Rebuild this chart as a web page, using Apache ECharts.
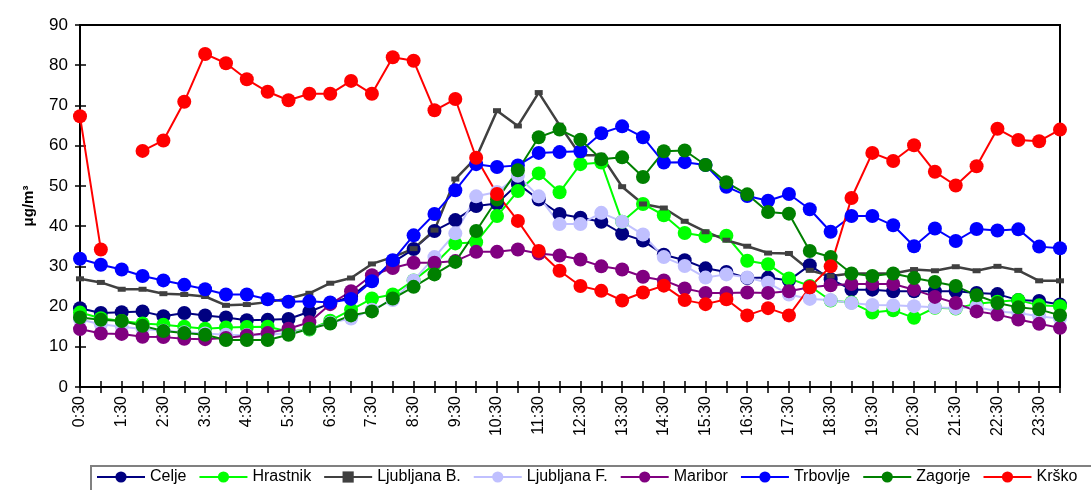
<!DOCTYPE html>
<html><head><meta charset="utf-8">
<script src="https://cdn.jsdelivr.net/npm/echarts@6/dist/echarts.min.js"></script>
<style>html,body{margin:0;padding:0;background:#fff}#c{width:1091px;height:490px}</style>
</head><body><div id="c"></div>
<script>
var categories = ['0:30','1:00','1:30','2:00','2:30','3:00','3:30','4:00','4:30','5:00','5:30','6:00','6:30','7:00','7:30','8:00','8:30','9:00','9:30','10:00','10:30','11:00','11:30','12:00','12:30','13:00','13:30','14:00','14:30','15:00','15:30','16:00','16:30','17:00','17:30','18:00','18:30','19:00','19:30','20:00','20:30','21:00','21:30','22:00','22:30','23:00','23:30','0:00'];
var yTicks = [0,10,20,30,40,50,60,70,80,90];

var celje = [19.6,18.4,18.6,18.8,17.6,18.4,17.8,17.3,16.6,16.7,16.9,18.7,20.8,22.5,26.5,31.0,34.3,38.8,41.5,45.0,45.6,50.5,46.6,43.0,42.1,41.1,38.1,36.4,32.9,31.5,29.5,28.6,27.1,27.2,26.5,30.3,26.8,24.2,24.2,23.8,23.8,23.8,23.8,23.4,23.1,21.6,21.4,20.5];
var hrastnik = [18.5,17.1,16.4,15.8,15.5,15.0,14.5,14.8,14.9,15.0,13.8,14.3,16.5,19.2,22.0,23.0,26.5,30.5,35.7,36.0,42.5,48.7,53.1,48.4,55.4,55.8,41.1,45.5,42.7,38.3,37.5,37.6,31.4,30.5,27.0,25.1,21.5,21.0,18.5,19.1,17.2,19.7,19.5,20.7,21.2,21.6,20.3,20.1];
var ljubljanaB = [26.9,26.0,24.3,24.3,23.2,23.0,22.5,20.3,20.5,21.1,22.0,23.3,25.8,27.1,30.6,32.3,34.4,39.0,51.7,57.0,68.7,64.9,73.2,65.1,57.6,57.6,49.8,45.5,44.5,41.2,38.6,36.5,35.0,33.3,33.2,29.0,27.6,28.2,28.2,28.2,29.2,28.9,29.9,28.9,30.0,29.0,26.4,26.4];
var ljubljanaF = [16.8,15.6,15.0,14.4,14.0,13.6,13.3,13.0,12.9,13.0,13.4,14.5,16.0,17.0,19.2,21.6,26.5,32.3,38.2,47.4,48.5,52.5,47.4,40.5,40.5,43.3,41.1,37.9,32.3,30.1,27.2,28.0,27.2,25.9,23.0,21.9,21.6,20.9,20.4,20.3,20.1,19.8,19.6,19.9,18.8,18.4,17.6,17.0];
var maribor = [14.4,13.3,13.2,12.5,12.4,12.0,11.9,12.2,12.8,13.4,14.5,16.1,20.6,23.8,27.8,29.6,30.9,30.9,31.3,33.6,33.6,34.2,33.2,32.7,31.7,30.0,29.2,27.4,26.5,24.5,23.4,23.4,23.5,23.4,23.8,24.8,25.3,25.6,25.6,25.6,24.2,22.4,20.9,18.8,18.0,16.8,15.7,14.7];
var trbovlje = [31.9,30.4,29.2,27.6,26.5,25.4,24.3,23.0,23.0,21.8,21.2,21.3,21.0,21.9,26.3,31.5,37.7,43.0,48.9,55.4,54.7,55.1,58.2,58.4,58.6,63.1,64.8,62.1,55.8,55.9,55.2,49.8,47.5,46.3,48.0,44.2,38.6,42.5,42.5,40.2,35.0,39.4,36.3,39.3,38.9,39.2,34.9,34.5];
var zagorje = [17.3,16.7,16.4,15.2,13.9,13.4,13.0,11.7,11.7,11.7,13.0,14.5,15.8,17.8,18.8,22.0,24.9,28.0,31.1,38.8,46.6,53.9,62.1,64.0,61.5,56.6,57.1,52.2,58.6,58.8,55.2,50.9,47.9,43.5,43.1,33.8,32.3,28.2,27.6,28.2,27.1,26.1,25.1,22.8,20.9,19.8,19.3,17.8];
var krsko = [67.3,34.2,null,58.7,61.3,70.9,82.8,80.5,76.5,73.4,71.3,72.9,72.9,76.1,72.9,82.0,81.1,68.8,71.6,57.0,48.0,41.3,33.8,28.9,25.1,23.9,21.5,23.5,25.2,21.6,20.6,21.8,17.8,19.6,17.8,24.8,30.0,47.0,58.2,56.2,60.1,53.5,50.1,54.9,64.2,61.4,61.1,64.0];

var seriesNames = ['Celje','Hrastnik','Ljubljana B.','Ljubljana F.','Maribor','Trbovlje','Zagorje','Krško'];
var seriesData = [celje,hrastnik,ljubljanaB,ljubljanaF,maribor,trbovlje,zagorje,krsko];
var seriesColors = ['#000080','#00ff00','#404040','#c0c0ff','#800080','#0000ff','#008000','#ff0000'];

var FONT = 'Arial, "Liberation Sans", sans-serif';
var series = seriesNames.map(function(n,i){
  var isB = (n === 'Ljubljana B.');
  return {
    name: n, type: 'line', data: seriesData[i], xAxisIndex: 0, yAxisIndex: 0,
    connectNulls: false,
    symbol: isB ? 'rect' : 'circle',
    symbolSize: isB ? [8,5] : 14,
    showAllSymbol: true,
    lineStyle: {color: seriesColors[i], width: isB ? 2.5 : 2},
    itemStyle: {color: seriesColors[i], borderWidth: 0},
    emphasis: {disabled: true}
  };
});

var chart = echarts.init(document.getElementById('c'), null, {renderer:'canvas'});
chart.setOption({
  animation: false,
  backgroundColor: '#fff',
  grid: {left: 80, right: 31, top: 25, bottom: 103, show: true, borderColor: '#000', borderWidth: 2, backgroundColor: 'transparent'},
  graphic: [{
    type: 'rect', left: 90, top: 465, silent: true, z: 0,
    shape: {width: 1010, height: 40},
    style: {fill: 'transparent', stroke: '#808080', lineWidth: 2}
  }],
  legend: {
    data: seriesNames, left: 90, top: 464, width: 1000,
    itemWidth: 48, itemHeight: 14, itemGap: 12,
    padding: [5, 0, 5, 6],
    textStyle: {fontSize: 16, color: '#000', fontFamily: FONT}
  },
  xAxis: [{
    type: 'category', data: categories, boundaryGap: false,
    axisLine: {lineStyle: {color: '#000', width: 2}},
    axisTick: {show: true, interval: 0, length: 6, inside: false, lineStyle: {color: '#000', width: 1.5}},
    axisLabel: {interval: 1, rotate: 90, fontSize: 16, color: '#000', fontFamily: FONT, margin: 9},
    splitLine: {show: false}
  },{
    type: 'category', data: categories, boundaryGap: false, position: 'bottom',
    axisLine: {show: false},
    axisTick: {show: true, interval: 0, length: 6, inside: true, lineStyle: {color: '#000', width: 1.5}},
    axisLabel: {show: false}, splitLine: {show: false}
  }],
  yAxis: [{
    type: 'value', min: 0, max: 90, interval: 10,
    name: 'μg/m³', nameLocation: 'middle', nameGap: 44, nameRotate: 90,
    nameTextStyle: {fontSize: 15, fontWeight: 'bold', color: '#000', fontFamily: FONT},
    axisLine: {show: true, lineStyle: {color: '#000', width: 2}},
    axisTick: {show: true, length: 5, inside: false, lineStyle: {color: '#000', width: 1.5}},
    axisLabel: {fontSize: 17, color: '#000', fontFamily: FONT, margin: 12,
      formatter: function(v){ return yTicks.indexOf(v) >= 0 ? String(v) : ''; }},
    splitLine: {show: false}
  },{
    type: 'value', min: 0, max: 90, interval: 10, position: 'left',
    axisLine: {show: false},
    axisTick: {show: true, length: 6, inside: true, lineStyle: {color: '#000', width: 1.5}},
    axisLabel: {show: false}, splitLine: {show: false}
  }],
  series: series
});
</script>
</body></html>
